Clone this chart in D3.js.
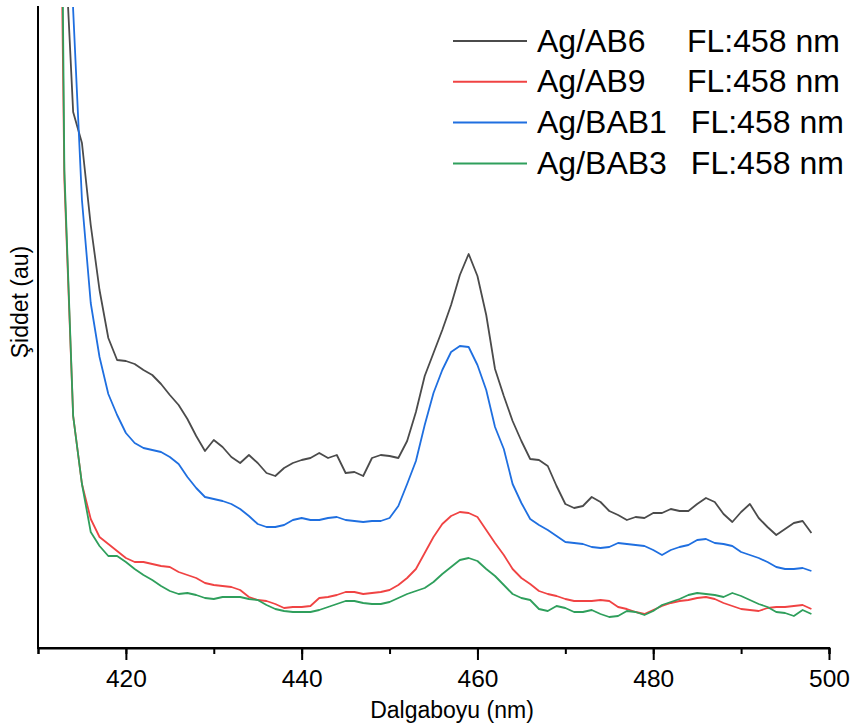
<!DOCTYPE html>
<html lang="tr">
<head>
<meta charset="utf-8">
<script src="https://d3js.org/d3.v7.min.js"></script>
<style type="text/css">
body { margin: 0; background: #fff; }
svg text { font-family: "Liberation Sans", Arial, sans-serif; fill: #000; }
.axis path, .axis line { stroke: #000; stroke-width: 2; fill: none; }
.series { fill: none; stroke-width: 1.8; stroke-linejoin: round; }
</style>
</head>
<body>
<div id="chart"></div>
<script type="text/javascript">

// wavelength grid, nm (1 nm step)
var wlAB6 = d3.range(413, 499);
var wlAB9 = d3.range(412, 499);
var wlBAB1 = d3.range(413, 499);
var wlBAB3 = d3.range(412, 499);

// intensities (a.u.)
var ab6 = [718,536,505,423,358,310,288,287,284,278,273,264,253,243,229,212,197,208,201,191,
  185,193,185,175,172,180,185,188,190,195,190,193,175,176,172,190,193,192,190,207,
  236,272,295,318,343,373,394,372,333,279,252,227,207,189,188,182,162,144,140,142,
  151,146,137,133,128,131,130,135,135,139,137,137,144,150,146,134,126,136,144,130,
  121,113,119,125,127,115];
var ab9 = [1196,468,232,164,129,111,104,97,90,86,86,84,82,81,76,73,70,65,63,62,
  61,58,51,48,47,44,40,41,41,42,50,51,53,56,56,54,55,56,58,63,
  70,79,95,111,124,132,136,135,131,118,105,93,79,70,64,57,54,52,49,47,
  47,47,48,47,41,39,36,34,38,42,45,47,48,50,51,49,45,42,39,38,
  37,40,41,41,42,43,39];
var bab1 = [948,638,448,345,291,254,233,215,205,200,198,196,191,184,171,160,151,149,147,144,
  139,132,124,121,121,123,128,130,128,128,130,131,128,127,126,127,127,130,142,164,
  187,223,255,278,296,302,301,283,258,221,199,164,145,129,123,118,112,106,105,104,
  101,100,101,105,104,103,102,98,93,98,101,103,108,109,105,104,102,96,93,90,
  86,81,79,79,80,77];
var bab3 = [1448,478,232,164,116,102,92,92,86,79,73,68,62,57,54,55,53,50,49,51,
  51,51,49,48,43,39,37,36,36,36,38,41,44,47,47,45,44,44,46,50,
  54,57,60,66,74,81,88,90,87,79,72,63,54,50,48,39,37,42,40,36,
  36,38,34,31,32,37,36,33,37,43,46,49,53,55,54,53,51,55,52,48,
  44,41,36,35,32,38,34];

var names = ["Ag/AB6", "Ag/AB9", "Ag/BAB1", "Ag/BAB3"];
var flLabel = "FL:458 nm";
var colors = ["#4b4b4b", "#f04343", "#1f6fe0", "#2f9f5c"];
var xTicks = [420, 440, 460, 480, 500];

var seriesList = [
  { name: names[0], wl: wlAB6, y: ab6 },
  { name: names[1], wl: wlAB9, y: ab9 },
  { name: names[2], wl: wlBAB1, y: bab1 },
  { name: names[3], wl: wlBAB3, y: bab3 }
];

var width = 853, height = 727;
var plot = { left: 38, right: 829, top: 6, bottom: 648 };

var svg = d3.select("#chart").append("svg")
  .attr("width", width)
  .attr("height", height);

var x = d3.scaleLinear().domain([410, 500]).range([plot.left, plot.right]);
var y = d3.scaleLinear().domain([0, 642]).range([plot.bottom, plot.top]);

svg.append("defs").append("clipPath").attr("id", "clip")
  .append("rect")
  .attr("x", plot.left).attr("y", plot.top + 1)
  .attr("width", plot.right - plot.left).attr("height", plot.bottom - plot.top);

var line = d3.line()
  .x(function(d) { return x(d[0]); })
  .y(function(d) { return y(d[1]); });

svg.append("g").attr("clip-path", "url(#clip)")
  .selectAll("path")
  .data(seriesList)
  .enter()
  .append("path")
  .attr("class", "series")
  .attr("stroke", function(d, i) { return colors[i]; })
  .attr("d", function(d) { return line(d.wl.map(function(w, k) { return [w, d.y[k]]; })); });

// minor ticks
var xMinor = d3.axisBottom(x).tickValues(d3.range(410, 501, 10)).tickSize(6).tickFormat("");
svg.append("g").attr("class", "axis")
  .attr("transform", "translate(0," + plot.bottom + ")")
  .call(xMinor);

// major ticks + labels
var xAxis = d3.axisBottom(x).tickValues(xTicks).tickSize(12).tickPadding(10).tickFormat(d3.format("d"));
var gx = svg.append("g").attr("class", "axis")
  .attr("transform", "translate(0," + plot.bottom + ")")
  .call(xAxis);
gx.select(".domain").attr("d", "M" + (plot.left - 1) + ",0H" + (plot.right + 1));
gx.selectAll("text").style("font-size", "24.5px").attr("dy", "0.71em");

// left axis line, no ticks
svg.append("line")
  .attr("x1", plot.left).attr("x2", plot.left)
  .attr("y1", plot.top).attr("y2", plot.bottom + 1)
  .attr("stroke", "#000").attr("stroke-width", 2);

svg.append("text")
  .attr("x", (369 + 535) / 2).attr("y", 718)
  .attr("text-anchor", "middle")
  .style("font-size", "23px")
  .text("Dalgaboyu (nm)");

svg.append("text")
  .attr("transform", "translate(28,302) rotate(-90)")
  .attr("text-anchor", "middle")
  .style("font-size", "23px")
  .text("Şiddet (au)");

// legend
var legend = svg.append("g").attr("transform", "translate(453,41)");
var rows = legend.selectAll("g")
  .data(seriesList)
  .enter()
  .append("g")
  .attr("transform", function(d, i) { return "translate(0," + (i * 40.8) + ")"; });

rows.append("line")
  .attr("x1", 0).attr("x2", 74)
  .attr("stroke", function(d, i) { return colors[i]; })
  .attr("stroke-width", 2);

rows.append("text")
  .attr("class", "lname")
  .attr("x", 84).attr("y", 10.5)
  .style("font-size", "32px")
  .text(function(d) { return d.name; });

rows.append("text")
  .attr("x", function(d) {
    var w = this.parentNode.querySelector(".lname").getComputedTextLength();
    return 84 + Math.max(150, w + 24);
  })
  .attr("y", 10.5)
  .style("font-size", "32px")
  .text(flLabel);

</script>
</body>
</html>
